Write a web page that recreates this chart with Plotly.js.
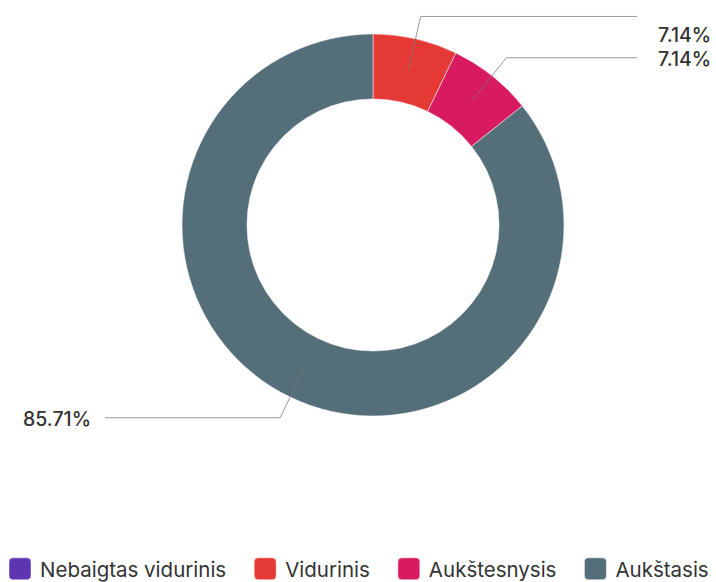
<!DOCTYPE html>
<html>
<head>
<meta charset="utf-8">
<script src="https://cdn.plot.ly/plotly-3.0.1.min.js"></script>
<style>
html,body{margin:0;padding:0;background:#fff;}
#chart{width:716px;height:582px;}
</style>
</head>
<body>
<div id="chart"></div>
<script>
// ---- data ----
const categories = ['Nebaigtas vidurinis', 'Vidurinis', 'Aukštesnysis', 'Aukštasis'];
const counts = [0, 1, 1, 12];
const colors = ['#5e35b1', '#e53935', '#d81b60', '#546e7a'];

// ---- geometry (pixels) ----
const W = 716, H = 582;
const CX = 373, CY = 225, R = 191;
const HOLE = 0.66;
const FONT = 'Inter, "Noto Sans", sans-serif';

const px2x = x => x / W;
const px2y = y => 1 - y / H;

const total = counts.reduce((a, b) => a + b, 0);
const shapes = [];
const annotations = [];
let cum = 0;
counts.forEach((v, i) => {
  const start = cum;
  cum += v;
  if (v <= 0) return;
  const mid = ((start + v / 2) / total) * 2 * Math.PI; // clockwise from top
  const s = Math.sin(mid), c = Math.cos(mid);
  const p0 = [CX + 0.835 * R * s, CY - 0.835 * R * c];
  const p1 = [CX + 1.12 * R * s, CY - 1.12 * R * c];
  const right = s > 0;
  const endX = right ? 637 : 105;
  shapes.push({
    type: 'path', xref: 'paper', yref: 'paper',
    path: `M${px2x(p0[0])},${px2y(p0[1])} L${px2x(p1[0])},${px2y(p1[1])} L${px2x(endX)},${px2y(p1[1])}`,
    line: {color: 'rgba(120,120,120,0.75)', width: 1}
  });
  const ly = Math.max(p1[1] + 1.5, 35);
  annotations.push({
    xref: 'paper', yref: 'paper',
    x: px2x(right ? 713 : 21), y: px2y(ly),
    xanchor: right ? 'right' : 'left', yanchor: 'middle',
    text: (v / total * 100).toFixed(2) + '%',
    showarrow: false,
    font: {family: FONT, size: 19.5, color: '#333', weight: 500}
  });
});

const data = [{
  type: 'pie',
  labels: categories,
  values: counts,
  marker: {colors: colors, line: {color: '#fff', width: 0.5}},
  hole: HOLE,
  sort: false,
  direction: 'clockwise',
  rotation: 0,
  textinfo: 'none',
  hoverinfo: 'label+percent',
  domain: {x: [(CX - R) / W, (CX + R) / W], y: [1 - (CY + R) / H, 1 - (CY - R) / H]},
  showlegend: true
}];

const layout = {
  width: W, height: H,
  margin: {l: 0, r: 0, t: 0, b: 0, autoexpand: false},
  paper_bgcolor: '#fff',
  font: {family: FONT, color: '#333'},
  showlegend: true,
  legend: {
    orientation: 'h', xref: 'container', yref: 'container',
    x: 0, xanchor: 'left', y: px2y(569), yanchor: 'middle',
    font: {family: FONT, size: 20.5, color: '#333'},
    bgcolor: 'rgba(0,0,0,0)', traceorder: 'normal', itemclick: false
  },
  shapes: shapes,
  annotations: annotations
};

Plotly.newPlot('chart', data, layout, {displayModeBar: false, staticPlot: true}).then(gd => {
  const sb = gd.querySelector('.legend .scrollbox');
  if (sb) sb.removeAttribute('clip-path');
  const legendEl = gd.querySelector('.legend');
  if (legendEl) legendEl.removeAttribute('clip-path');
  const items = gd.querySelectorAll('.legend .traces');
  let x = null, prevW = 0;
  items.forEach((g, i) => {
    const m = /translate\(\s*([-\d.]+)[ ,]+([-\d.]+)\s*\)/.exec(g.getAttribute('transform') || '');
    const ty = m ? parseFloat(m[2]) : 0;
    const tx = m ? parseFloat(m[1]) : 0;
    if (x === null) x = tx; else x = x + 40 + prevW + 19;
    g.setAttribute('transform', `translate(${x},${ty})`);
    const t = g.querySelector('text.legendtext');
    prevW = t ? t.getComputedTextLength() : 0;
    const p = g.querySelector('.legendpoints path');
    if (p) p.setAttribute('d', 'M-7,-11H7Q11,-11 11,-7V7Q11,11 7,11H-7Q-11,11 -11,7V-7Q-11,-11 -7,-11Z');
  });
});
</script>
</body>
</html>
